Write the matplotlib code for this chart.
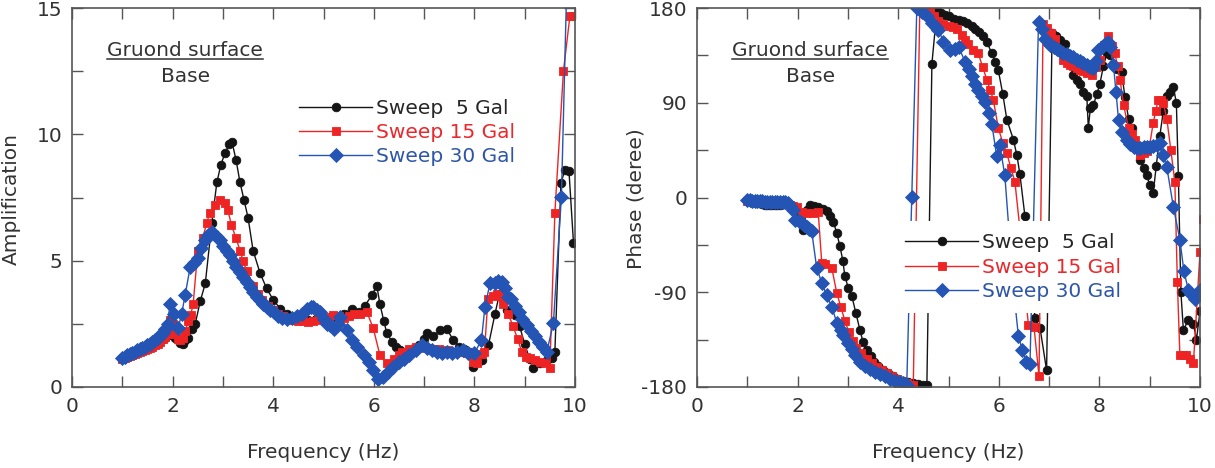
import matplotlib
matplotlib.use("Agg")
import matplotlib.pyplot as plt
from matplotlib.ticker import MultipleLocator
from matplotlib.lines import Line2D

plt.rcParams['font.family'] = ['DejaVu Sans']
plt.rcParams['axes.unicode_minus'] = False

# ---------------- Amplification data ----------------
freq_amp_5 = [1.0, 1.05, 1.1, 1.15, 1.2, 1.25, 1.3, 1.35, 1.4, 1.45, 1.5, 1.55, 1.6, 1.65, 1.7, 1.75, 1.8, 1.85, 1.9, 1.95,
              2.0, 2.05, 2.1, 2.15, 2.2, 2.25, 2.3, 2.38, 2.45, 2.55, 2.65, 2.78, 2.88, 2.96, 3.04, 3.12, 3.18, 3.26, 3.34,
              3.42, 3.5, 3.6, 3.74, 3.87, 4.0, 4.14, 4.27, 4.4, 4.55, 4.7, 4.85, 5.0, 5.1, 5.25, 5.4, 5.56, 5.7, 5.82,
              5.96, 6.06, 6.12, 6.2, 6.26, 6.36, 6.45, 6.52, 6.6, 6.7, 6.8, 6.9, 7.0, 7.05, 7.18, 7.32, 7.45, 7.58, 7.7,
              7.8, 7.9, 7.98, 8.08, 8.15, 8.28, 8.41, 8.5, 8.57, 8.64, 8.72, 8.81, 8.9, 9.0, 9.1, 9.17, 9.3, 9.45, 9.54,
              9.6, 9.72, 9.8, 9.88, 9.97]
amp_5 = [1.15, 1.2, 1.24, 1.28, 1.32, 1.36, 1.4, 1.44, 1.48, 1.52, 1.56, 1.6, 1.64, 1.7, 1.76, 1.82, 1.88, 1.95, 2.05, 2.1,
         2.05, 1.95, 1.85, 1.75, 1.72, 1.85, 1.95, 2.3, 2.5, 3.4, 4.1, 6.5, 8.1, 8.8, 9.25, 9.6, 9.7, 9.0, 8.1,
         7.4, 6.7, 5.4, 4.5, 3.9, 3.45, 3.1, 2.9, 2.75, 2.7, 2.65, 2.7, 2.7, 2.72, 2.78, 2.9, 3.1, 2.95, 3.2,
         3.64, 4.0, 3.3, 2.6, 2.12, 1.8, 1.6, 1.45, 1.35, 1.45, 1.55, 1.65, 1.9, 2.12, 2.0, 2.25, 2.3, 1.86, 1.6,
         1.5, 1.4, 0.8, 1.0, 1.07, 1.66, 2.9, 3.7, 3.5, 3.05, 2.95, 2.85, 2.4, 1.7, 1.1, 0.75, 0.95, 1.05, 1.13,
         1.4, 8.06, 8.6, 8.55, 5.7]

freq_amp_15 = [1.0, 1.05, 1.1, 1.15, 1.2, 1.25, 1.3, 1.35, 1.4, 1.45, 1.5, 1.55, 1.6, 1.65, 1.7, 1.75, 1.8, 1.85, 1.9,
               1.95, 2.0, 2.05, 2.1, 2.15, 2.2, 2.25, 2.31, 2.36, 2.41, 2.5, 2.6, 2.68, 2.74, 2.84, 2.94, 3.04, 3.1,
               3.17, 3.26, 3.34, 3.4, 3.47, 3.6, 3.7, 3.77, 3.9, 4.0, 4.1, 4.2, 4.3, 4.4, 4.5, 4.6, 4.7, 4.8, 4.9,
               5.0, 5.1, 5.19, 5.3, 5.4, 5.5, 5.6, 5.73, 5.86, 5.99, 6.12, 6.26, 6.4, 6.5, 6.57, 6.7, 6.83, 6.95,
               7.05, 7.15, 7.3, 7.45, 7.6, 7.75, 7.85, 7.98, 8.05, 8.15, 8.2, 8.27, 8.37, 8.44, 8.5, 8.57, 8.67,
               8.77, 8.86, 8.94, 9.02, 9.1, 9.2, 9.3, 9.4, 9.5, 9.6, 9.77, 9.9, 9.97]
amp_15 = [1.1, 1.14, 1.18, 1.22, 1.26, 1.3, 1.34, 1.38, 1.42, 1.46, 1.5, 1.55, 1.6, 1.65, 1.72, 1.8, 1.88, 1.98, 2.1,
          2.65, 2.5, 2.1, 1.9, 1.86, 1.95, 2.2, 2.6, 2.85, 3.3, 5.4, 5.9, 6.5, 6.9, 7.2, 7.4, 7.27, 7.0,
          6.4, 5.9, 5.4, 5.0, 4.6, 4.0, 3.7, 3.45, 3.2, 3.05, 2.9, 2.8, 2.72, 2.66, 2.62, 2.6, 2.58, 2.6, 2.65,
          2.7, 2.78, 2.85, 2.8, 2.75, 2.8, 2.9, 2.9, 2.98, 2.32, 1.27, 0.94, 1.1, 1.25, 1.38, 1.5, 1.6, 1.6,
          1.55, 1.5, 1.5, 1.45, 1.4, 1.4, 1.35, 1.0, 0.95, 1.3, 1.4, 3.5, 3.6, 3.7, 3.6, 3.3, 2.9,
          2.4, 1.9, 1.4, 1.2, 1.15, 1.05, 1.0, 0.95, 0.74, 6.9, 12.5, 14.7, 14.7]

freq_amp_30 = [1.0, 1.05, 1.1, 1.15, 1.2, 1.25, 1.3, 1.35, 1.4, 1.45, 1.5, 1.55, 1.6, 1.65, 1.7, 1.75, 1.8, 1.85, 1.9,
               1.95, 2.02, 2.11, 2.18, 2.25, 2.35, 2.42, 2.5, 2.57, 2.64, 2.71, 2.78, 2.88, 2.95, 3.01, 3.08, 3.14,
               3.2, 3.27, 3.34, 3.4, 3.47, 3.54, 3.6, 3.67, 3.74, 3.8, 3.87, 3.94, 4.02, 4.1, 4.18, 4.27, 4.37,
               4.47, 4.57, 4.67, 4.75, 4.8, 4.87, 4.93, 5.0, 5.06, 5.13, 5.2, 5.28, 5.33, 5.46, 5.56, 5.66, 5.8,
               5.9, 5.99, 6.09, 6.19, 6.29, 6.39, 6.5, 6.6, 6.7, 6.83, 6.96, 7.05, 7.15, 7.25, 7.35, 7.45, 7.55,
               7.65, 7.77, 7.88, 8.0, 8.14, 8.21, 8.31, 8.4, 8.47, 8.54, 8.6, 8.67, 8.73, 8.8, 8.88, 8.95, 9.04,
               9.12, 9.2, 9.28, 9.36, 9.44, 9.57, 9.73, 9.85]
amp_30 = [1.15, 1.2, 1.25, 1.3, 1.35, 1.4, 1.45, 1.5, 1.55, 1.6, 1.65, 1.7, 1.78, 1.86, 1.95, 2.05, 2.15, 2.3, 2.5,
          3.3, 2.9, 2.32, 2.9, 3.64, 4.76, 4.9, 5.1, 5.5, 5.82, 6.0, 6.15, 5.95, 5.8, 5.6, 5.4, 5.22,
          5.0, 4.76, 4.55, 4.36, 4.15, 3.97, 3.75, 3.57, 3.45, 3.3, 3.15, 3.05, 2.95, 2.8, 2.75, 2.7, 2.72,
          2.8, 2.9, 3.1, 3.15, 3.18, 3.05, 2.98, 2.7, 2.5, 2.45, 2.3, 2.5, 2.78, 2.25, 1.86, 1.58, 1.27,
          1.0, 0.67, 0.3, 0.4, 0.6, 0.8, 1.0, 1.12, 1.25, 1.45, 1.66, 1.55, 1.45, 1.4, 1.35, 1.4, 1.35,
          1.4, 1.45, 1.35, 1.33, 1.86, 3.18, 4.1, 4.12, 4.2, 4.17, 3.9, 3.57, 3.5, 3.2, 2.95, 2.7, 2.45,
          2.2, 2.0, 1.8, 1.6, 1.4, 2.52, 7.53, 17.0]

# ---------------- Phase data ----------------
freq_ph_5 = [1.0, 1.05, 1.1, 1.15, 1.2, 1.25, 1.3, 1.35, 1.4, 1.45, 1.5, 1.55, 1.6, 1.65, 1.7, 1.75, 1.8, 1.85, 1.9,
             1.95, 2.02, 2.11, 2.18, 2.25, 2.33, 2.41, 2.5, 2.58, 2.65, 2.71, 2.78, 2.84, 2.9, 2.94, 3.01, 3.08,
             3.16, 3.24, 3.3, 3.37, 3.45, 3.52, 3.6, 3.7, 3.8, 3.9, 4.0, 4.1, 4.2, 4.3, 4.4, 4.5, 4.57, 4.67,
             4.77, 4.85, 4.93, 5.0, 5.1, 5.2, 5.28, 5.36, 5.46, 5.53, 5.6, 5.68, 5.76, 5.86, 5.93, 5.99, 6.08,
             6.16, 6.29, 6.36, 6.42, 6.52, 6.62, 6.72, 6.82, 6.95, 7.06, 7.14, 7.22, 7.32, 7.4, 7.48, 7.55,
             7.61, 7.68, 7.75, 7.78, 7.82, 7.88, 7.95, 8.01, 8.08, 8.15, 8.21, 8.28, 8.35, 8.44, 8.51, 8.58,
             8.64, 8.72, 8.81, 8.88, 8.94, 9.0, 9.07, 9.13, 9.2, 9.27, 9.34, 9.4, 9.47, 9.53, 9.57, 9.62, 9.67,
             9.77, 9.87, 9.93, 10.0]
phase_5 = [-3, -3, -4, -4, -5, -5, -6, -7, -7, -7, -7, -7, -7, -7, -6, -6, -6, -7, -8,
           -10, -16, -31, -12, -7, -8, -9, -11, -13, -18, -23, -34, -46, -60, -75, -86, -94,
           -110, -126, -137, -145, -151, -156, -160, -164, -167, -170, -172, -174, -175, -176, -177, -178, -178, 127,
           178, 175, 173, 172, 170, 169, 168, 166, 163, 160, 157, 153, 148, 137, 129, 121, 98,
           74, 55, 40, 22, -18, -70, -114, -124, -164, 156, 153, 150, 146, 130, 116, 112,
           108, 100, 96, 66, 85, 88, 98, 108, 125, 137, 135, 127, 122, 119, 95, 75,
           66, 50, 36, 28, 21, 12, 4, 30, 58, 82, 96, 100, 105, 90, 20, -90, -126,
           -116, -120, -135, -108]

freq_ph_15 = [1.0, 1.05, 1.1, 1.15, 1.2, 1.25, 1.3, 1.35, 1.4, 1.45, 1.5, 1.55, 1.6, 1.65, 1.7, 1.75, 1.8, 1.85, 1.9,
              1.98, 2.08, 2.18, 2.3, 2.41, 2.48, 2.55, 2.68, 2.78, 2.86, 2.94, 3.02, 3.1, 3.17, 3.27, 3.37, 3.47,
              3.57, 3.67, 3.77, 3.87, 3.97, 4.07, 4.17, 4.3, 4.43, 4.52, 4.63, 4.72, 4.8, 4.9, 5.0, 5.08, 5.16,
              5.26, 5.33, 5.39, 5.49, 5.59, 5.68, 5.76, 5.83, 5.89, 5.99, 6.08, 6.16, 6.24, 6.32, 6.42, 6.5, 6.59,
              6.7, 6.8, 6.88, 6.95, 7.04, 7.12, 7.2, 7.28, 7.35, 7.42, 7.48, 7.55, 7.62, 7.68, 7.76, 7.85, 7.93,
              8.01, 8.1, 8.18, 8.25, 8.31, 8.36, 8.41, 8.48, 8.58, 8.64, 8.71, 8.76, 8.81, 8.88, 8.94, 9.0, 9.07,
              9.12, 9.17, 9.22, 9.27, 9.34, 9.42, 9.5, 9.55, 9.6, 9.67, 9.73, 9.8, 9.87, 10.0, 10.05]
phase_15 = [-3, -3, -3, -4, -4, -4, -4, -5, -5, -5, -5, -5, -5, -5, -5, -5, -6, -7, -8,
            -9, -14, -15, -15, -14, -62, -63, -67, -91, -104, -117, -128, -136, -143, -148, -153, -157,
            -161, -164, -167, -170, -172, -174, -176, -178, 181, 179, 177, 172, 168, 165, 163, 162, 160,
            154, 150, 146, 140, 137, 124, 112, 102, 93, 66, 52, 42, 28, 15, -30, -80, -121,
            -123, -170, 165, 161, 156, 151, 140, 131, 128, 126, 125, 123, 121, 120, 118, 116, 124,
            131, 145, 153, 144, 137, 125, 112, 88, 66, 60, 55, 46, 40, 42, 44, 50, 71,
            82, 93, 93, 90, 75, 45, 15, -80, -150, -150, -150, -153, -157, -52, -20]

freq_ph_30 = [1.0, 1.05, 1.1, 1.15, 1.2, 1.25, 1.3, 1.35, 1.4, 1.45, 1.5, 1.55, 1.6, 1.65, 1.7, 1.75, 1.8, 1.85, 1.9,
              1.95, 2.02, 2.08, 2.13, 2.18, 2.23, 2.28, 2.38, 2.48, 2.58, 2.68, 2.78, 2.86, 2.91, 3.01, 3.08, 3.14,
              3.24, 3.34, 3.44, 3.54, 3.64, 3.74, 3.84, 3.94, 4.04, 4.1, 4.17, 4.27, 4.37, 4.47, 4.57, 4.67,
              4.75, 4.8, 4.9, 5.03, 5.12, 5.2, 5.33, 5.4, 5.46, 5.53, 5.59, 5.66, 5.73, 5.8, 5.86, 5.96, 6.02,
              6.12, 6.2, 6.3, 6.39, 6.47, 6.55, 6.62, 6.79, 6.85, 6.92, 7.02, 7.09, 7.15, 7.22, 7.28, 7.35,
              7.42, 7.48, 7.55, 7.61, 7.68, 7.75, 7.82, 7.88, 7.94, 7.98, 8.05, 8.11, 8.18, 8.21, 8.28, 8.33,
              8.38, 8.45, 8.54, 8.61, 8.68, 8.74, 8.81, 8.88, 8.94, 9.0, 9.07, 9.14, 9.2, 9.27, 9.34, 9.47,
              9.6, 9.68, 9.77, 9.83, 9.9, 10.0]
phase_30 = [-2, -2, -3, -3, -3, -3, -3, -4, -4, -4, -4, -4, -4, -4, -4, -4, -5, -8, -12,
            -21, -22, -24, -26, -28, -30, -32, -67, -81, -93, -104, -119, -126, -131, -138, -144, -150,
            -156, -160, -163, -166, -168, -170, -172, -174, -175, -176, -178, 0.7, 180, 176, 172, 166,
            162, 159, 148, 140, 141, 143, 129, 122, 115, 108, 102, 96, 91, 80, 70, 39, 50,
            21, -30, -90, -132, -145, -156, -158, 167, 160, 151, 145, 143, 141, 139, 137, 136,
            134, 133, 131, 130, 128, 126, 124, 123, 130, 140, 143, 146, 148, 143, 126, 100,
            74, 62, 55, 51, 48, 47, 47, 48, 48, 48, 49, 50, 52, 40, 29, -9,
            -40, -70, -88, -92, -96, -88]

series_labels = ['Sweep  5 Gal', 'Sweep 15 Gal', 'Sweep 30 Gal']
amp_freqs = [freq_amp_5, freq_amp_15, freq_amp_30]
amp_vals = [amp_5, amp_15, amp_30]
ph_freqs = [freq_ph_5, freq_ph_15, freq_ph_30]
ph_vals = [phase_5, phase_15, phase_30]

colors = ['#141414', '#ee2424', '#2454b4']
text_colors = ['#262626', '#e8282c', '#2d55a8']
markers = ['o', 's', 'D']
msizes = [6.2, 6.2, 7.0]

fig = plt.figure(figsize=(12.15, 4.68), dpi=100)
W, H = 1215, 468
ax1 = fig.add_axes([72 / W, 1 - 387 / H, 503 / W, 379 / H])
ax2 = fig.add_axes([697 / W, 1 - 387 / H, 503 / W, 379 / H])

label_col = '#333333'
fs = 14.5

for ax, freqs, vals in [(ax1, amp_freqs, amp_vals), (ax2, ph_freqs, ph_vals)]:
    for f, v, c, m, ms, lab in zip(freqs, vals, colors, markers, msizes, series_labels):
        ax.plot(f, v, color=c, marker=m, markersize=ms, linewidth=1.0, label=lab,
                markeredgewidth=0.6, markeredgecolor=c)
    ax.set_xlim(0, 10)
    ax.xaxis.set_major_locator(MultipleLocator(2))
    ax.xaxis.set_minor_locator(MultipleLocator(1))
    ax.tick_params(which='both', direction='in', top=True, right=True, length=8,
                   width=1.0, color='#555555', labelsize=fs, labelcolor=label_col)
    ax.tick_params(axis='x', pad=7)
    ax.tick_params(axis='y', pad=7)
    for s in ax.spines.values():
        s.set_color('#555555')
        s.set_linewidth(1.2)

ax1.set_ylim(0, 15)
ax1.yaxis.set_major_locator(MultipleLocator(5))
ax1.yaxis.set_minor_locator(MultipleLocator(2.5))

ax2.set_ylim(-180, 180)
ax2.yaxis.set_major_locator(MultipleLocator(90))
ax2.yaxis.set_minor_locator(MultipleLocator(45))

# axis labels placed by pixel position of the reference
fig.text(323 / W, 1 - 453 / H, 'Frequency (Hz)', ha='center', va='center', fontsize=fs, color=label_col)
fig.text(948 / W, 1 - 453 / H, 'Frequency (Hz)', ha='center', va='center', fontsize=fs, color=label_col)
fig.text(11 / W, 1 - 199 / H, 'Amplification', ha='center', va='center', rotation=90, fontsize=fs, color=label_col)
fig.text(636 / W, 1 - 199 / H, 'Phase (deree)', ha='center', va='center', rotation=90, fontsize=fs, color=label_col)

# legends
for ax, anchor in [(ax1, (0.428, 0.792)), (ax2, (0.39, 0.437))]:
    leg = ax.legend(loc='upper left', bbox_to_anchor=anchor, borderaxespad=0, frameon=True,
                    fontsize=fs, handlelength=3.6, handletextpad=0.2, labelspacing=0.26,
                    borderpad=0.6, fancybox=False)
    leg.get_frame().set_facecolor('white')
    leg.get_frame().set_edgecolor('none')
    leg.get_frame().set_alpha(1.0)
    for t, c in zip(leg.get_texts(), text_colors):
        t.set_color(c)

# annotations
titles = []
for ax in (ax1, ax2):
    t = ax.text(0.225, 0.889, 'Gruond surface', transform=ax.transAxes, ha='center', va='center',
                fontsize=fs, color=label_col)
    ax.text(0.225, 0.818, 'Base', transform=ax.transAxes, ha='center', va='center',
            fontsize=fs, color=label_col)
    titles.append(t)

fig.canvas.draw()
r = fig.canvas.get_renderer()
for t in titles:
    bb = t.get_window_extent(renderer=r)
    y = bb.y0 + 1
    fig.add_artist(Line2D([bb.x0 / W, bb.x1 / W], [y / H, y / H], transform=fig.transFigure,
                          color=label_col, linewidth=1.1))

fig.savefig('out.png', dpi=100)
